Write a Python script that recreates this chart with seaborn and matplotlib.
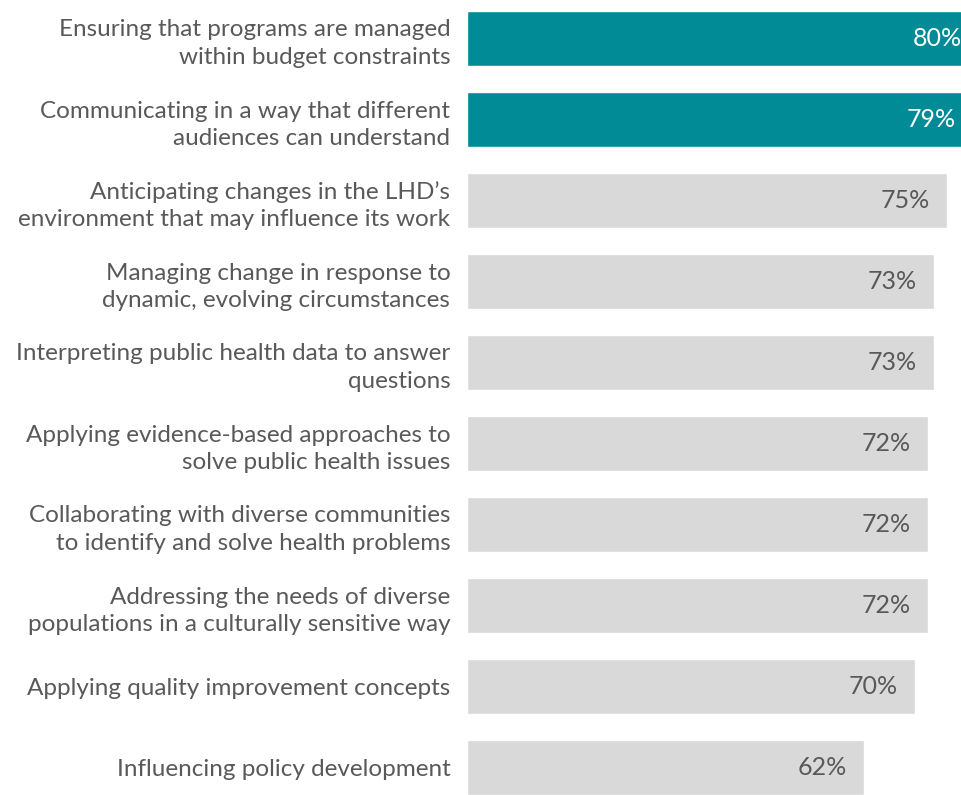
import matplotlib
matplotlib.use("Agg")
import matplotlib.pyplot as plt
import seaborn as sns
import pandas as pd

categories = [
    "Ensuring that programs are managed\nwithin budget constraints",
    "Communicating in a way that different\naudiences can understand",
    "Anticipating changes in the LHD\u2019s\nenvironment that may influence its work",
    "Managing change in response to\ndynamic, evolving circumstances",
    "Interpreting public health data to answer\nquestions",
    "Applying evidence-based approaches to\nsolve public health issues",
    "Collaborating with diverse communities\nto identify and solve health problems",
    "Addressing the needs of diverse\npopulations in a culturally sensitive way",
    "Applying quality improvement concepts",
    "Influencing policy development",
]
values = [80, 79, 75, 73, 73, 72, 72, 72, 70, 62]
highlight = ["top", "top", "other", "other", "other", "other", "other", "other", "other", "other"]

TEAL = "#008B96"
GRAY = "#D9D9D9"
TEXT = "#595959"

df = pd.DataFrame({"skill": categories, "pct": values, "group": highlight})

sns.set_theme(style="white")
plt.rcParams["font.family"] = ["Lato", "DejaVu Sans"]

fig = plt.figure(figsize=(9.61, 7.95), dpi=100)
ax = fig.add_axes([467 / 961, 0, 1 - 467 / 961, 1])

sns.barplot(
    data=df, x="pct", y="skill", hue="group",
    palette={"top": TEAL, "other": GRAY},
    orient="h", width=0.68, dodge=False, legend=False, ax=ax,
    saturation=1,
)

px_per_unit = 6.4
ax.set_xlim(0, (961 - 467) / px_per_unit)
ax.set_ylim(9 + 27.5 / 81, -38.5 / 81)

for i, (v, g) in enumerate(zip(values, highlight)):
    ax.text(v - 17 / px_per_unit, i, f"{v}%", ha="right", va="center",
            fontsize=18, color="white" if g == "top" else TEXT)

ax.set_xlabel("")
ax.set_ylabel("")
ax.set_xticks([])
ax.tick_params(axis="y", length=0, pad=12, labelsize=17.5, labelcolor=TEXT)
for lbl in ax.get_yticklabels():
    lbl.set_linespacing(1.38)
for s in ax.spines.values():
    s.set_visible(False)

fig.savefig("out.png", dpi=100)
